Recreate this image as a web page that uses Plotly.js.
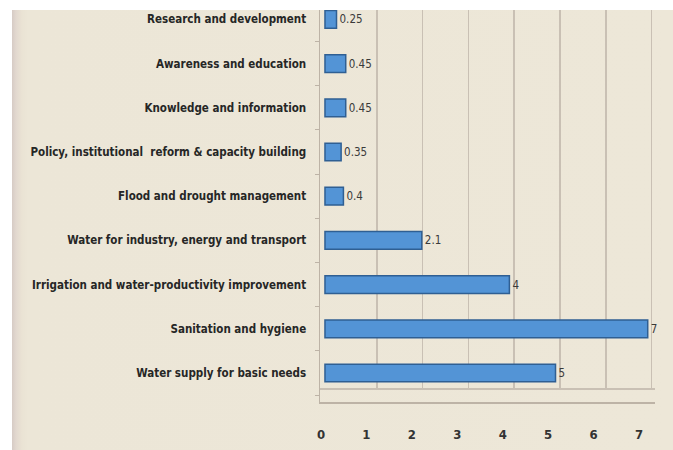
<!DOCTYPE html>
<html>
<head>
<meta charset="utf-8">
<script src="https://cdn.plot.ly/plotly-3.0.1.min.js"></script>
<style>
  html, body { margin: 0; padding: 0; background: #ffffff; width: 673px; height: 450px; overflow: hidden; }
  #wrap { position: absolute; left: 12px; top: 10px; width: 661px; height: 440px;
          background: linear-gradient(to right, #d6cbc5 0px, #e2d8cf 4px, #eae3d4 10px, #ece6d7 16px, #ede7d8 100%); }
  #chart { position: absolute; left: 0; top: 0; width: 661px; height: 440px; }
</style>
</head>
<body>
<div id="wrap"><div id="chart"></div></div>
<script>
// Categories, bottom to top (as plotted)
const categories = [
  "Water supply for basic needs",
  "Sanitation and hygiene",
  "Irrigation and water-productivity improvement",
  "Water for industry, energy and transport",
  "Flood and drought management",
  "Policy, institutional  reform & capacity building",
  "Knowledge and information",
  "Awareness and education",
  "Research and development"
];
const values = [5, 7, 4, 2.1, 0.4, 0.35, 0.45, 0.45, 0.25];
const valueLabels = ["5", "7", "4", "2.1", "0.4", "0.35", "0.45", "0.45", "0.25"];
const xTicks = [0, 1, 2, 3, 4, 5, 6, 7];
const xTickLabels = ["0", "1", "2", "3", "4", "5", "6", "7"];
const gridTicks = [1, 2, 3, 4, 5, 6, 7];

const labelFont = "'DejaVu Sans Condensed', 'DejaVu Sans', sans-serif";

// empty carrier so the back-wall grid axis (base subplot) is drawn beneath the bars
const gridCarrier = { type: "scatter", x: [], y: [], xaxis: "x", yaxis: "y2", hoverinfo: "skip", showlegend: false };
const bars = {
  type: "bar",
  orientation: "h",
  y: categories,
  x: values,
  text: valueLabels,
  textposition: "outside",
  cliponaxis: false,
  textfont: { family: labelFont, size: 11.5, color: "#3a3a3a", stretch: "condensed" },
  width: 0.4,
  marker: { color: "#5394d6", line: { color: "#2f5f93", width: 1.5 } },
  hoverinfo: "skip",
  xaxis: "x2",
  yaxis: "y"
};
// empty carrier for the front tick-label axis
const tickCarrier = { type: "scatter", x: [], y: [], xaxis: "x3", yaxis: "y", hoverinfo: "skip", showlegend: false };

const layout = {
  width: 661,
  height: 440,
  margin: { l: 308, r: 18, t: 0, b: 48 },
  paper_bgcolor: "rgba(0,0,0,0)",
  plot_bgcolor: "rgba(0,0,0,0)",
  showlegend: false,
  // back wall grid
  xaxis: {
    anchor: "y2", side: "bottom",
    range: [-0.24, 7.074],
    tickmode: "array", tickvals: gridTicks,
    showgrid: true, gridcolor: "#c9c0b4", gridwidth: 1.5,
    zeroline: false, showticklabels: false, ticks: "",
    showline: true, linecolor: "#c9c0b4", linewidth: 1.5
  },
  // bars
  xaxis2: {
    overlaying: "x", anchor: "y", side: "bottom",
    range: [-0.108, 7.158],
    showgrid: false, zeroline: false, showticklabels: false, ticks: "",
    showline: false
  },
  // front tick labels
  xaxis3: {
    overlaying: "x", anchor: "y", side: "bottom",
    range: [-0.022, 7.352],
    tickmode: "array", tickvals: xTicks, ticktext: xTickLabels,
    showgrid: false, zeroline: false, ticks: "",
    ticklabelstandoff: 20,
    tickfont: { family: labelFont, size: 13, color: "#333333", weight: "bold", stretch: "condensed" },
    showline: true, linecolor: "#bdb3a6", linewidth: 1.5
  },
  yaxis: {
    type: "category",
    range: [-0.656, 8.213],
    ticks: "outside", tickson: "boundaries", ticklen: 4, tickwidth: 1, tickcolor: "#bdb3a6",
    ticklabelstandoff: 10,
    tickfont: { family: labelFont, size: 11.5, color: "#262626", weight: "bold", stretch: "condensed" },
    showgrid: false, zeroline: false,
    showline: true, linecolor: "#bdb3a6", linewidth: 1.5
  },
  yaxis2: {
    domain: [14 / 392, 1],
    range: [0, 1],
    showgrid: false, zeroline: false, showticklabels: false, ticks: "", showline: false
  }
};

Plotly.newPlot("chart", [gridCarrier, bars, tickCarrier], layout, { displayModeBar: false, staticPlot: true });
</script>
</body>
</html>
